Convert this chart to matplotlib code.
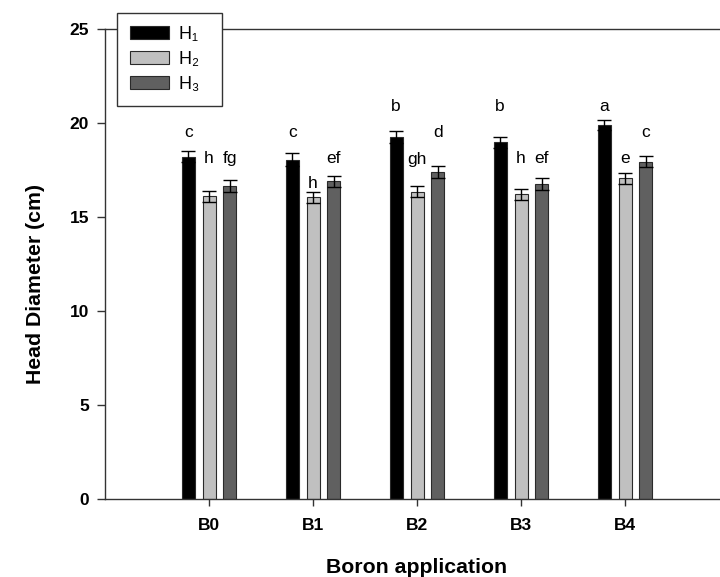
import matplotlib
matplotlib.use("Agg")
import matplotlib.pyplot as plt
import numpy as np

plt.rcParams['font.family'] = ['Liberation Sans', 'DejaVu Sans']

categories = ['B0', 'B1', 'B2', 'B3', 'B4']
series_names = ['H\u2081', 'H\u2082', 'H\u2083']
h1 = [18.2, 18.05, 19.25, 18.97, 19.9]
h2 = [16.1, 16.05, 16.35, 16.2, 17.05]
h3 = [16.65, 16.9, 17.4, 16.75, 17.95]
err1 = [0.3, 0.33, 0.3, 0.3, 0.28]
err2 = [0.3, 0.3, 0.3, 0.3, 0.3]
err3 = [0.3, 0.3, 0.3, 0.3, 0.3]
letters1 = ['c', 'c', 'b', 'b', 'a']
letters2 = ['h', 'h', 'gh', 'h', 'e']
letters3 = ['fg', 'ef', 'd', 'ef', 'c']
letter_y1 = [19.5, 19.5, 20.9, 20.9, 20.9]
letter_y2 = [18.1, 16.8, 18.05, 18.1, 18.1]
letter_y3 = [18.1, 18.1, 19.5, 18.1, 19.5]

colors = ['#000000', '#c0c0c0', '#606060']
edge = '#2a2a2a'

fig = plt.figure(figsize=(7.2, 5.77), dpi=100)
ax = fig.add_axes([105/720, 1 - 499/577, 624/720, (499 - 29)/577])

x = np.arange(1, len(categories) + 1)
width = 0.125
offsets = [-0.2, 0.0, 0.2]
vals = [h1, h2, h3]
errs = [err1, err2, err3]
letters = [letters1, letters2, letters3]
letter_ys = [letter_y1, letter_y2, letter_y3]

handles = []
for i in range(3):
    b = ax.bar(x + offsets[i], vals[i], width, color=colors[i], edgecolor=edge,
               linewidth=0.8, label=series_names[i], zorder=2)
    handles.append(b)
    ax.errorbar(x + offsets[i], vals[i], yerr=errs[i], fmt='none', ecolor='black',
                elinewidth=1.0, capsize=5, capthick=1.0, zorder=3)
    for xi, lt, ly in zip(x + offsets[i], letters[i], letter_ys[i]):
        ax.text(xi, ly, lt, ha='center', va='center', fontsize=12.5, color='black')

ax.set_xlim(0, 6)
ax.set_ylim(0, 25)
ax.set_yticks([0, 5, 10, 15, 20, 25])
ax.set_xticks(x)
ax.set_xticklabels(categories)
for lab in ax.get_xticklabels() + ax.get_yticklabels():
    lab.set_fontweight('bold')
    lab.set_fontsize(12.5)
ax.tick_params(axis='y', direction='out', length=6, width=1, color='#333333', pad=5.5)
ax.tick_params(axis='x', direction='out', length=5, width=1, color='#333333', pad=8.5)
for s in ax.spines.values():
    s.set_color('#333333')
    s.set_linewidth(1.0)

fig.text(417/720, 1 - 572.7/577, 'Boron application', ha='center', va='baseline',
         fontsize=15.3, fontweight='bold')
fig.text(35.5/720, 1 - 284/577, 'Head Diameter (cm)', ha='center', va='center',
         rotation=90, fontsize=15.3, fontweight='bold')

leg = ax.legend(handles=handles, labels=[n + '  ' for n in series_names], loc='upper left',
                bbox_to_anchor=(117/720, 1 - 13/577), bbox_transform=fig.transFigure,
                fontsize=13, frameon=True, fancybox=False, shadow=False,
                handlelength=2.2, handleheight=0.72, handletextpad=0.55,
                borderpad=0.7, labelspacing=0.45, borderaxespad=0)
leg.get_frame().set_edgecolor('#333333')
leg.get_frame().set_linewidth(1.0)
leg.get_frame().set_alpha(1)

fig.savefig('out.png', dpi=100)
